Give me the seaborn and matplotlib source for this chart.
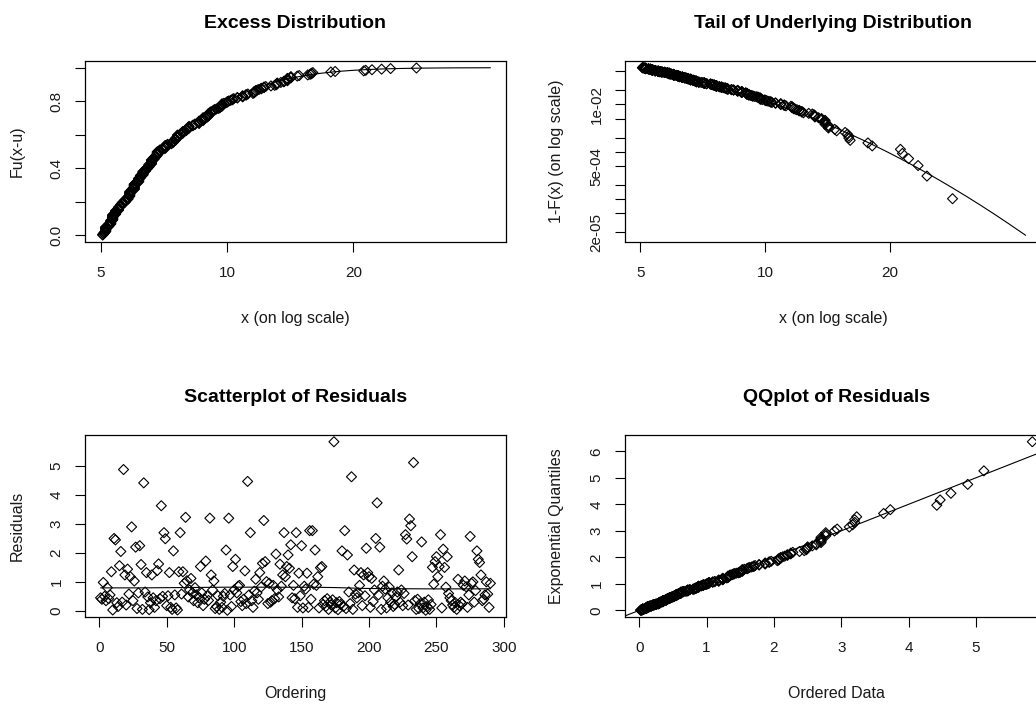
import numpy as np
import pandas as pd
import seaborn as sns
import matplotlib
matplotlib.use("Agg")
import matplotlib.pyplot as plt
from matplotlib.ticker import NullLocator

# fitted GPD (threshold u, shape xi, scale beta) and tail fraction above u
u = 5.0
xi = 0.11
beta = 2.84
tail_frac = 0.0594

residuals = [
    0.45, 0.40, 0.98, 0.50, 0.35, 0.80, 0.42, 0.55, 1.35, 0.03,
    2.50, 2.45, 0.28, 0.15, 1.56, 2.05, 0.30, 4.88, 1.24, 0.20,
    1.44, 0.58, 1.18, 2.90, 0.35, 1.03, 2.20, 0.08, 0.62, 2.25,
    1.60, 0.05, 4.42, 0.65, 1.32, 0.48, 0.04, 0.28, 1.24, 0.45,
    0.12, 0.35, 1.39, 1.62, 0.42, 3.63, 0.50, 2.70, 2.49, 0.18,
    0.52, 1.32, 0.12, 0.05, 2.07, 0.55, 0.10, 0.03, 1.35, 2.70,
    0.58, 1.35, 0.95, 3.23, 1.04, 0.48, 0.72, 1.12, 0.62, 0.35,
    0.80, 0.55, 0.28, 0.45, 1.53, 0.62, 0.18, 0.40, 1.72, 0.52,
    0.36, 3.20, 1.24, 0.72, 1.03, 0.08, 0.15, 0.52, 0.05, 0.30,
    0.12, 0.50, 0.60, 2.10, 0.02, 3.20, 0.55, 0.15, 1.53, 0.72,
    1.78, 0.62, 0.85, 0.88, 0.32, 0.18, 0.40, 1.38, 0.25, 4.47,
    0.55, 2.70, 0.35, 0.12, 0.68, 1.09, 0.62, 0.40, 1.32, 0.82,
    1.64, 3.12, 1.70, 1.01, 0.25, 0.95, 0.30, 0.35, 0.88, 0.42,
    1.96, 0.72, 0.48, 1.61, 0.85, 1.24, 2.70, 1.18, 1.53, 1.93,
    1.47, 2.28, 0.45, 0.88, 0.42, 2.70, 0.12, 1.30, 0.52, 2.25,
    0.10, 0.85, 0.75, 1.30, 0.12, 2.77, 0.40, 2.77, 0.92, 2.10,
    0.88, 1.18, 0.10, 1.49, 1.53, 0.22, 0.35, 0.15, 0.42, 0.05,
    0.30, 0.20, 0.38, 5.84, 0.10, 0.28, 0.04, 0.32, 0.22, 2.07,
    0.15, 2.77, 0.08, 1.93, 0.65, 0.25, 4.63, 0.05, 1.41, 0.58,
    0.45, 0.62, 0.88, 1.32, 0.18, 1.24, 0.52, 2.16, 1.32, 1.18,
    0.12, 1.12, 0.32, 0.72, 2.50, 3.73, 0.55, 2.20, 0.05, 0.85,
    1.03, 0.75, 0.10, 0.45, 0.82, 0.30, 0.62, 0.15, 0.22, 0.48,
    0.65, 1.41, 0.30, 0.72, 0.18, 0.60, 2.63, 2.48, 0.20, 3.17,
    2.94, 1.87, 5.12, 0.35, 0.05, 0.40, 0.08, 0.25, 2.38, 0.10,
    0.30, 0.02, 0.15, 0.38, 0.05, 0.22, 1.50, 0.92, 1.70, 1.87,
    1.18, 1.53, 2.63, 0.10, 2.13, 1.50, 0.82, 1.87, 0.60, 0.45,
    0.35, 0.20, 0.12, 0.28, 0.05, 1.09, 0.18, 0.30, 0.25, 0.88,
    1.03, 0.83, 0.12, 0.55, 2.57, 0.95, 1.00, 0.30, 0.70, 2.07,
    1.78, 1.67, 1.24, 0.35, 0.40, 0.55, 1.00, 0.58, 0.12, 0.95,
]

titles = ["Excess Distribution", "Tail of Underlying Distribution",
          "Scatterplot of Residuals", "QQplot of Residuals"]
log_xticks = [5, 10, 20]
tail_yticks = [5e-2, 2e-2, 1e-2, 5e-3, 2e-3, 1e-3, 5e-4, 2e-4, 1e-4, 5e-5, 2e-5]
tail_ylabels = ["", "", "1e-02", "", "", "", "5e-04", "", "", "", "2e-05"]


def lowess(x, y, f=2 / 3, iters=3):
    n = len(x)
    r = int(np.ceil(f * n))
    fit = np.zeros(n)
    robust = np.ones(n)
    for _ in range(iters + 1):
        for i in range(n):
            d = np.abs(x - x[i])
            h = np.sort(d)[r - 1]
            w = (1 - np.clip(d / h, 0, 1) ** 3) ** 3 * robust
            xm = (w * x).sum() / w.sum()
            ym = (w * y).sum() / w.sum()
            b = (w * (x - xm) * (y - ym)).sum() / (w * (x - xm) ** 2).sum()
            fit[i] = ym + b * (x[i] - xm)
        res = y - fit
        s = np.median(np.abs(res))
        robust = (1 - np.clip(res / (6 * s), -1, 1) ** 2) ** 2
    return fit


def r_range(lo, hi):
    pad = 0.04 * (hi - lo)
    return lo - pad, hi + pad


res = np.array(residuals)
n = len(res)
order = np.arange(1, n + 1)
pp = (order - 0.5) / n

# observations above threshold (same points as the residuals)
data = np.sort(u + beta / xi * np.expm1(xi * res))
df_top = pd.DataFrame({"x": data, "Fu": pp, "tail": (1 - pp) * tail_frac})

grid = np.geomspace(u, 1.5 * data.max(), 300)
fit_cdf = 1 - (1 + xi * (grid - u) / beta) ** (-1 / xi)
df_fit = pd.DataFrame({"x": grid, "Fu": fit_cdf, "tail": tail_frac * (1 - fit_cdf)})

df_res = pd.DataFrame({"Ordering": order, "Residuals": res,
                       "smooth": lowess(order.astype(float), res)})
df_qq = pd.DataFrame({"data": np.sort(res), "quant": -np.log(1 - pp)})

sns.set_style("white")
plt.rcParams["font.family"] = ["Liberation Sans", "DejaVu Sans"]
plt.rcParams["text.color"] = "#1a1a1a"
plt.rcParams["axes.labelcolor"] = "#1a1a1a"

W, H = 1036, 706
fig = plt.figure(figsize=(W / 100, H / 100), dpi=100)
ax_tl = fig.add_axes([85 / W, (H - 242) / H, 421 / W, 181 / H])
ax_tr = fig.add_axes([625 / W, (H - 242) / H, 416 / W, 181 / H])
ax_bl = fig.add_axes([85 / W, (H - 617) / H, 421 / W, 182 / H])
ax_br = fig.add_axes([625 / W, (H - 617) / H, 423 / W, 182 / H])

pts = dict(marker="D", s=26, facecolor="none", edgecolor="black", linewidth=0.8)
line = dict(color="black", linewidth=0.8, estimator=None, sort=False)

# excess distribution
sns.lineplot(data=df_fit, x="x", y="Fu", ax=ax_tl, **line)
sns.scatterplot(data=df_top, x="x", y="Fu", ax=ax_tl, **pts)
ax_tl.set_xscale("log")
lx = np.log10([u, grid.max()])
ax_tl.set_xlim(10 ** np.array(r_range(*lx)))
ax_tl.set_ylim(r_range(0, 1))
ax_tl.set_yticks([0, 0.2, 0.4, 0.6, 0.8, 1.0], ["0.0", "", "0.4", "", "0.8", ""])
ax_tl.set_xlabel("x (on log scale)")
ax_tl.set_ylabel("Fu(x-u)")

# tail of underlying distribution
sns.lineplot(data=df_fit, x="x", y="tail", ax=ax_tr, **line)
sns.scatterplot(data=df_top, x="x", y="tail", ax=ax_tr, **pts)
ax_tr.set_xscale("log")
ax_tr.set_yscale("log")
ax_tr.set_xlim(10 ** np.array(r_range(*lx)))
ly = np.log10([df_fit["tail"].min(), df_top["tail"].max()])
ax_tr.set_ylim(10 ** np.array(r_range(*ly)))
ax_tr.set_yticks(tail_yticks, tail_ylabels)
ax_tr.set_xlabel("x (on log scale)")
ax_tr.set_ylabel("1-F(x) (on log scale)")

for ax in (ax_tl, ax_tr):
    ax.set_xticks(log_xticks, [str(t) for t in log_xticks])
    ax.xaxis.set_minor_locator(NullLocator())
ax_tr.yaxis.set_minor_locator(NullLocator())

# residuals against ordering
sns.scatterplot(data=df_res, x="Ordering", y="Residuals", ax=ax_bl, **pts)
sns.lineplot(data=df_res, x="Ordering", y="smooth", ax=ax_bl, **line)
ax_bl.set_xlim(r_range(1, n))
ax_bl.set_ylim(r_range(res.min(), res.max()))
ax_bl.set_xticks(range(0, 301, 50))
ax_bl.set_yticks(range(0, 6))
ax_bl.set_xlabel("Ordering")
ax_bl.set_ylabel("Residuals")

# qq plot against exponential
sns.scatterplot(data=df_qq, x="data", y="quant", ax=ax_br, **pts)
ax_br.set_xlim(r_range(df_qq["data"].min(), df_qq["data"].max()))
ax_br.set_ylim(r_range(df_qq["quant"].min(), df_qq["quant"].max()))
ax_br.axline((0, 0), slope=1, color="black", linewidth=0.8)
ax_br.set_xticks(range(0, 6))
ax_br.set_yticks(range(0, 7))
ax_br.set_xlabel("Ordered Data")
ax_br.set_ylabel("Exponential Quantiles")

for ax, title in zip((ax_tl, ax_tr, ax_bl, ax_br), titles):
    ax.set_title(title, fontsize=14, fontweight="bold", pad=24, color="black")
    ax.xaxis.label.set_size(11.5)
    ax.yaxis.label.set_size(11.5)
    ax.xaxis.labelpad = 22
    ax.yaxis.labelpad = 18
    for s in ax.spines.values():
        s.set_color("black")
        s.set_linewidth(0.9)
    ax.tick_params(axis="both", which="major", direction="out", length=7.5,
                   width=0.8, color="black", labelsize=11, labelcolor="#1a1a1a",
                   bottom=True, left=True)
    ax.tick_params(axis="x", pad=10)
    ax.tick_params(axis="y", pad=8)
    for lab in ax.get_yticklabels():
        lab.set_rotation(90)
        lab.set_va("center")

fig.savefig("out.png", dpi=100)
